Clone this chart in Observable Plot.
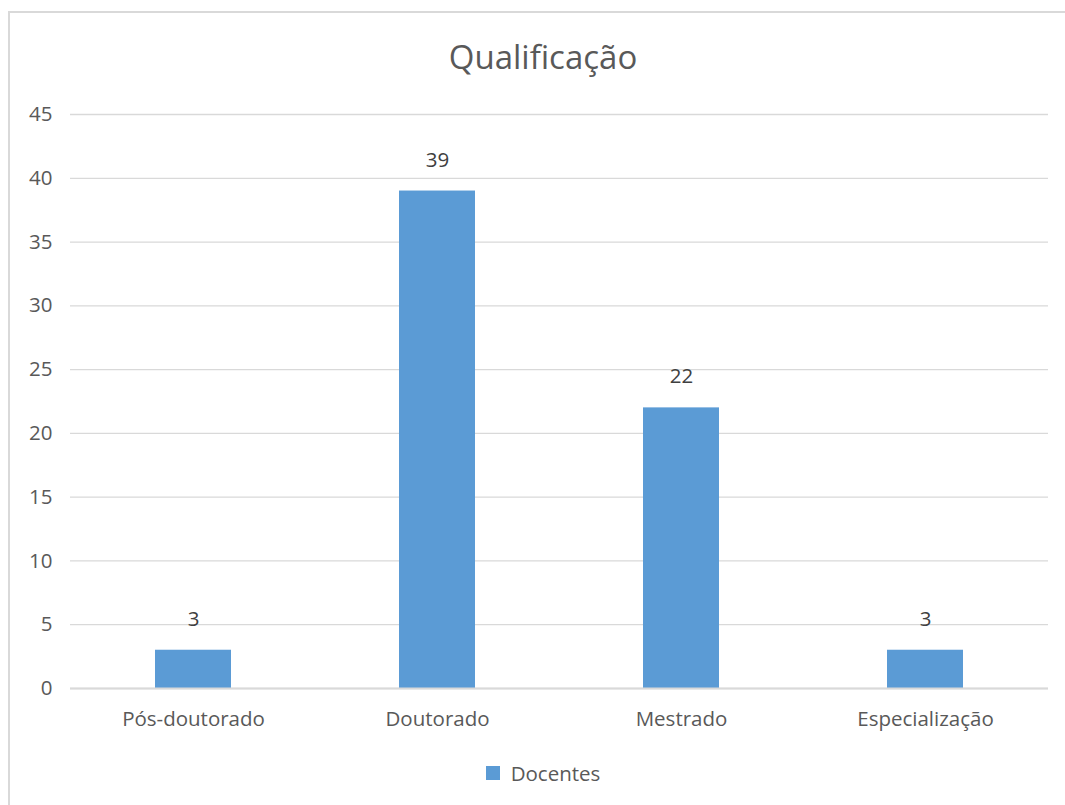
<!DOCTYPE html>
<html>
<head>
<meta charset="utf-8">
<script src="https://cdn.jsdelivr.net/npm/d3@7"></script>
<script src="https://cdn.jsdelivr.net/npm/@observablehq/plot@0.6"></script>
<style>
  html, body { margin: 0; padding: 0; background: white; }
  #wrap { position: relative; width: 1065px; height: 805px; overflow: hidden; background: white; font-family: "Open Sans", sans-serif; }
  #frame { position: absolute; left: 8px; top: 11px; width: 1200px; height: 900px; border-left: 2px solid #d9d9d9; border-top: 2px solid #d9d9d9; box-sizing: border-box; z-index: 5; pointer-events: none; }
  #title { position: absolute; left: 0; top: 35px; width: 1086px; text-align: center; font-size: 33px; line-height: 44px; color: #595959; }
  #chart { position: absolute; left: 0; top: 90px; }
  #legend { position: absolute; left: 0; top: 762px; width: 1086px; display: flex; justify-content: center; align-items: center; font-size: 20.5px; line-height: 22px; color: #595959; }
  #legend .sw { width: 14px; height: 14px; background: #5b9bd5; margin-right: 11px; }
</style>
</head>
<body>
<div id="wrap">
  <div id="frame"></div>
  <div id="title"></div>
  <div id="chart"></div>
  <div id="legend"></div>
</div>
<script>
const chartTitle = "Qualificação";
const categories = ["Pós-doutorado", "Doutorado", "Mestrado", "Especialização"];
const values = [3, 39, 22, 3];
const seriesName = "Docentes";
const yTicks = [0, 5, 10, 15, 20, 25, 30, 35, 40, 45];
const barColor = "#5b9bd5";

const data = categories.map((c, i) => ({category: c, value: values[i]}));

document.getElementById("title").textContent = chartTitle;

const plot = Plot.plot({
  width: 1065,
  height: 660,
  marginTop: 24,
  marginBottom: 62,
  marginLeft: 70,
  marginRight: 17,
  style: {fontFamily: "Open Sans, sans-serif", fontSize: "20.5px", color: "#595959", background: "transparent", overflow: "visible"},
  x: {domain: categories, paddingInner: 0.69, paddingOuter: 0.345, label: null},
  y: {domain: [0, 45], label: null},
  marks: [
    Plot.gridY(yTicks, {stroke: "#d9d9d9", strokeOpacity: 1, strokeWidth: 1.3}),
    Plot.barY(data, {x: "category", y: "value", fill: barColor}),
    Plot.ruleY([0], {stroke: "#d9d9d9", strokeWidth: 2}),
    Plot.text(data, {x: "category", y: "value", text: d => String(d.value), dy: -31, fill: "#404040", fontSize: 20.5}),
    Plot.axisX({tickSize: 0, tickPadding: 23, label: null, fill: "#595959"}),
    Plot.axisY(yTicks, {tickSize: 0, tickPadding: 18, label: null, fill: "#595959"})
  ]
});
document.getElementById("chart").appendChild(plot);

const legend = document.getElementById("legend");
const sw = document.createElement("div");
sw.className = "sw";
const lab = document.createElement("span");
lab.textContent = seriesName;
legend.appendChild(sw);
legend.appendChild(lab);
</script>
</body>
</html>
